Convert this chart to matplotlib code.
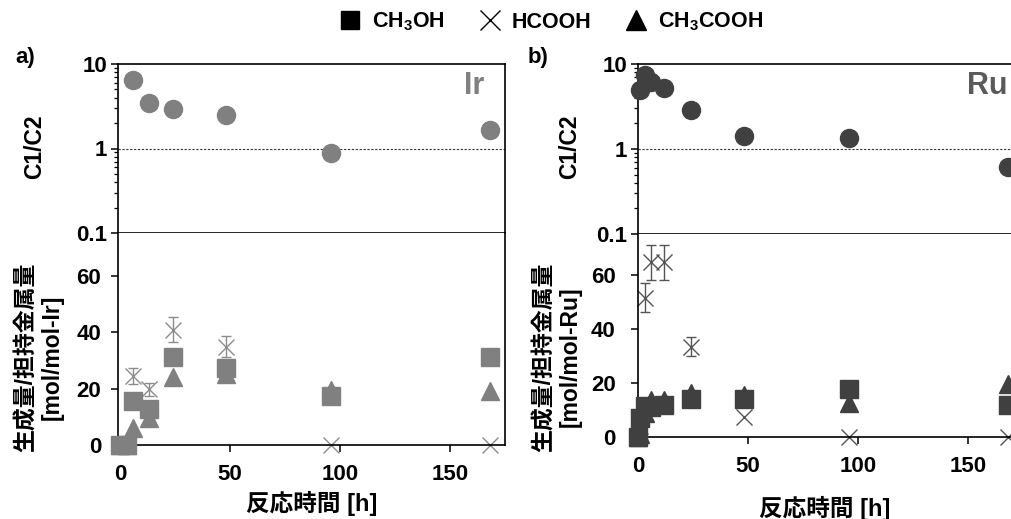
import numpy as np
import matplotlib
matplotlib.use("Agg")
import matplotlib.pyplot as plt
from matplotlib.lines import Line2D

plt.rcParams['font.family'] = ['Liberation Sans', 'Noto Sans CJK JP', 'DejaVu Sans']
plt.rcParams['font.weight'] = 'bold'
plt.rcParams['mathtext.fontset'] = 'custom'
plt.rcParams['mathtext.rm'] = 'Liberation Sans:bold'
plt.rcParams['mathtext.bf'] = 'Liberation Sans:bold'

# ---- data ----
# a) Ir
ir_time = [0, 3, 6, 13, 24, 48, 96, 168]
ir_ch3oh = [0, 0, 15.5, 12.8, 31.4, 27.4, 17.5, 31.2]
ir_hcooh = [0, 0, 24.5, 19.8, 40.9, 34.9, 0, 0]
ir_hcooh_err = [0, 0, 2.7, 2.3, 4.4, 3.7, 0, 0]
ir_ch3cooh = [0, 0, 6.2, 9.6, 24.2, 25.2, 19.5, 19.3]
ir_ratio_time = [6, 13, 24, 48, 96, 168]
ir_ratio = [6.5, 3.46, 2.97, 2.48, 0.89, 1.64]

# b) Ru
ru_time = [0, 1, 3, 6, 12, 24, 48, 96, 168]
ru_ch3oh = [0, 7, 11.5, 11, 12, 14.1, 14, 17.7, 11.9]
ru_hcooh = [0, 4, 51.4, 64.5, 64.5, 33.4, 7.5, 0, 0]
ru_hcooh_err = [0, 0, 5.4, 6.5, 6.5, 3.5, 0, 0, 0]
ru_ch3cooh = [0, 1, 9, 13.7, 13.7, 16.1, 15.7, 12.5, 19.6]
ru_ratio_time = [1, 3, 6, 12, 24, 48, 96, 168]
ru_ratio = [4.94, 7.4, 6.2, 5.25, 2.88, 1.42, 1.34, 0.62]

W, H = 1012, 519
fig = plt.figure(figsize=(W / 100, H / 100), dpi=100)


def fx(px):
    return px / W


def fy(py):
    return 1 - py / H


def make_panel(left, right, top, mid, bottom, xlim, ymax, pad_low):
    ax_up = fig.add_axes([fx(left), fy(mid), fx(right) - fx(left), fy(top) - fy(mid)])
    ax_lo = fig.add_axes([fx(left), fy(bottom), fx(right) - fx(left), fy(mid) - fy(bottom)])
    for ax in (ax_up, ax_lo):
        ax.set_xlim(*xlim)
        for s in ax.spines.values():
            s.set_linewidth(1.2)
        ax.tick_params(direction='out', length=5, width=1.1, labelsize=16)
    ax_up.set_yscale('log')
    ax_up.set_ylim(0.1, 10)
    ax_up.set_yticks([0.1, 1, 10])
    ax_up.set_yticklabels(['0.1', '1', '10'])
    ax_up.tick_params(axis='y', which='minor', length=3, width=0.9)
    ax_up.tick_params(axis='y', pad=3)
    ax_up.set_xticks([])
    ax_up.axhline(1, color='#333333', lw=0.8, ls=(0, (2, 1.5)))
    ax_lo.set_ylim(0, ymax)
    ax_lo.set_yticks([0, 20, 40, 60])
    ax_lo.set_xticks([0, 50, 100, 150])
    ax_lo.spines['top'].set_visible(False)
    ax_lo.tick_params(axis='y', pad=pad_low)
    ax_lo.tick_params(axis='x', pad=9)
    return ax_up, ax_lo


def draw(ax_up, ax_lo, col, xcol, t, meoh, fa, fa_err, acoh, rt, ratio):
    ax_up.plot(rt, ratio, 'o', ms=13, color=col, mec=col, clip_on=False, zorder=3)
    fa_t = [a for a, e in zip(t, fa_err) if e > 0]
    fa_v = [a for a, e in zip(fa, fa_err) if e > 0]
    fa_e = [e for e in fa_err if e > 0]
    ax_lo.errorbar(fa_t, fa_v, yerr=fa_e, fmt='none', ecolor=xcol, elinewidth=1.0,
                   capsize=3.5, capthick=1.0, clip_on=False, zorder=2)
    ax_lo.plot(t, fa, 'x', ms=12, mew=1.0, color=xcol, clip_on=False, zorder=2)
    ax_lo.plot(t, acoh, '^', ms=12.5, color=col, mec=col, clip_on=False, zorder=3)
    ax_lo.plot(t, meoh, 's', ms=12.5, color=col, mec=col, clip_on=False, zorder=4)


# panel a
a_up, a_lo = make_panel(118, 505, 64, 233, 445, (-1, 175), 75.3, 7)
draw(a_up, a_lo, '#808080', '#8c8c8c', ir_time, ir_ch3oh, ir_hcooh, ir_hcooh_err,
     ir_ch3cooh, ir_ratio_time, ir_ratio)
a_up.text(fx(484), fy(86), 'Ir', transform=fig.transFigure, ha='right', va='center',
          fontsize=22, color='#808080', fontweight='bold')

# panel b (runs past the right edge of the figure like the original)
b_up, b_lo = make_panel(638, 1023, 64, 234, 437, (0, 175), 75, 11)
draw(b_up, b_lo, '#404040', '#555555', ru_time, ru_ch3oh, ru_hcooh, ru_hcooh_err,
     ru_ch3cooh, ru_ratio_time, ru_ratio)
b_up.text(fx(1008), fy(86), 'Ru', transform=fig.transFigure, ha='right', va='center',
          fontsize=22, color='#5a5a5a', fontweight='bold')

# labels
fig.text(fx(25), fy(57), 'a)', fontsize=16, ha='center', va='center')
fig.text(fx(538), fy(57), 'b)', fontsize=16, ha='center', va='center')
fig.text(fx(35), fy(147), 'C1/C2', rotation=90, fontsize=16.5, ha='center', va='center')
fig.text(fx(570), fy(147), 'C1/C2', rotation=90, fontsize=16.5, ha='center', va='center')
fig.text(fx(39), fy(357), '生成量/担持金属量\n[mol/mol-Ir]', rotation=90, fontsize=16.5,
         ha='center', va='center', multialignment='center', linespacing=1.15)
fig.text(fx(557), fy(357), '生成量/担持金属量\n[mol/mol-Ru]', rotation=90, fontsize=16.5,
         ha='center', va='center', multialignment='center', linespacing=1.15)
fig.text(fx(312), fy(503), '反応時間 [h]', fontsize=17, ha='center', va='center')
fig.text(fx(825), fy(508), '反応時間 [h]', fontsize=17, ha='center', va='center')

handles = [
    Line2D([], [], ls='none', marker='s', ms=13, color='black'),
    Line2D([], [], ls='none', marker='x', ms=15, mew=1.0, color='black'),
    Line2D([], [], ls='none', marker='^', ms=15, color='black'),
]
labels = [r'CH$_\mathbf{3}$OH', 'HCOOH', r'CH$_\mathbf{3}$COOH']
fig.legend(handles, labels, loc='center', bbox_to_anchor=(fx(550), fy(22)), ncol=3,
           frameon=False, fontsize=15.5, handletextpad=0.4, columnspacing=1.5,
           handlelength=1.2)

fig.savefig('out.png', dpi=100)
